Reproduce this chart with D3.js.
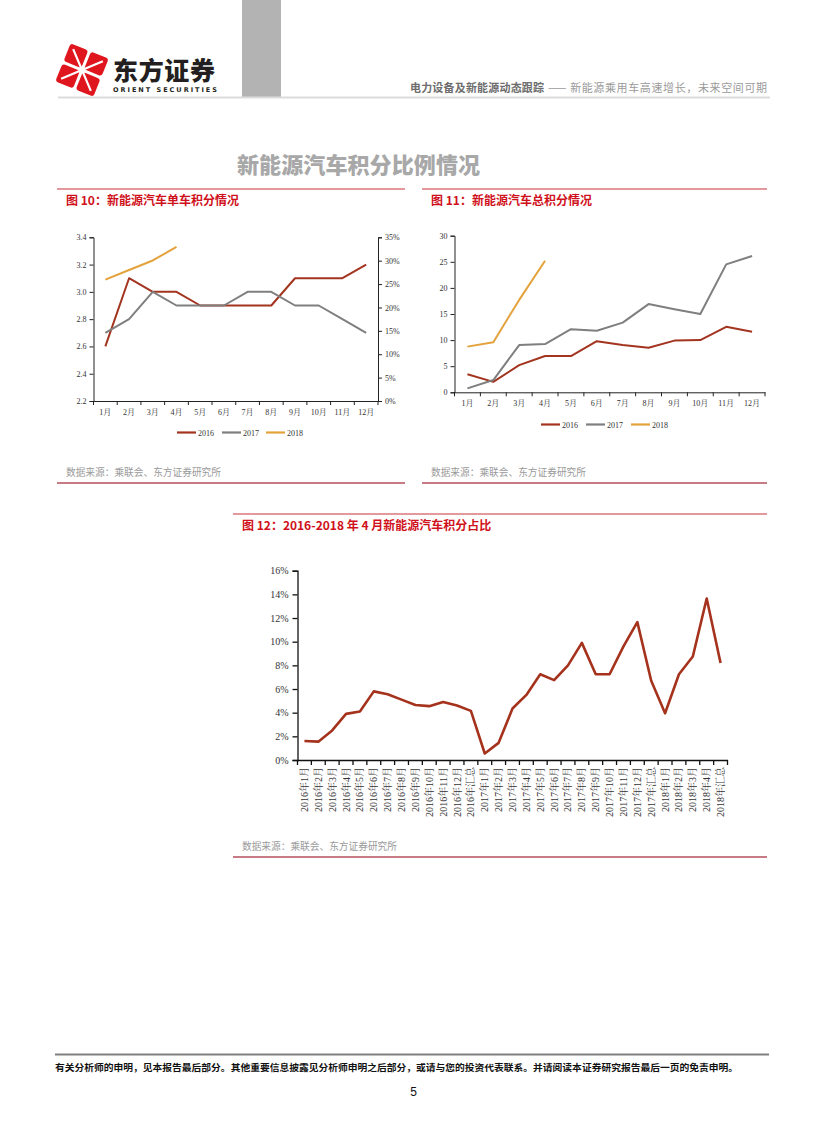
<!DOCTYPE html>
<html><head><meta charset="utf-8">
<script src="https://cdn.jsdelivr.net/npm/d3@7"></script>
<style>
html,body{margin:0;padding:0;background:#fff;}
svg{display:block;}
</style></head>
<body>
<script>
// ---------- data ----------
const months = ["1月","2月","3月","4月","5月","6月","7月","8月","9月","10月","11月","12月"];
const seriesNames = ["2016","2017","2018"];
const seriesColors = ["#a3341f","#7f7f7f","#e3a23b"];

// Fig 10: single-vehicle credit
const single2016 = [2.6,3.1,3.0,3.0,2.9,2.9,2.9,2.9,3.1,3.1,3.1,3.2];
const single2017 = [2.7,2.8,3.0,2.9,2.9,2.9,3.0,3.0,2.9,2.9,2.8,2.7];
const single2018 = [3.09,3.16,3.23,3.33];
const leftTicks10 = [2.2,2.4,2.6,2.8,3.0,3.2,3.4];
const rightTicks10 = [0,0.05,0.10,0.15,0.20,0.25,0.30,0.35];

// Fig 11: total credit
const total2016 = [3.45,2.0,5.2,6.95,6.95,9.8,9.05,8.55,9.9,10.0,12.55,11.6];
const total2017 = [0.75,2.35,9.05,9.25,12.1,11.8,13.35,16.9,15.9,15.0,24.5,26.1];
const total2018 = [8.75,9.6,17.7,25.2];
const ticks11 = [0,5,10,15,20,25,30];

// Fig 12: share
const shareLabels = ["2016年1月","2016年2月","2016年3月","2016年4月","2016年5月","2016年6月","2016年7月","2016年8月","2016年9月","2016年10月","2016年11月","2016年12月","2016年汇总",
"2017年1月","2017年2月","2017年3月","2017年4月","2017年5月","2017年6月","2017年7月","2017年8月","2017年9月","2017年10月","2017年11月","2017年12月","2017年汇总",
"2018年1月","2018年2月","2018年3月","2018年4月","2018年汇总"];
const shareValues = [1.6,1.55,2.5,3.9,4.1,5.8,5.55,5.1,4.65,4.55,4.9,4.6,4.15,
0.55,1.45,4.35,5.5,7.25,6.75,8.0,9.9,7.25,7.25,9.6,11.65,6.7,
3.95,7.25,8.75,13.65,8.2];
const ticks12 = [0,2,4,6,8,10,12,14,16];

// ---------- page ----------
const W = 827, H = 1122;
const CJK = "'Noto Sans CJK SC','Noto Sans',sans-serif";
const SERIF = "'Liberation Serif','Noto Serif CJK SC','Noto Sans CJK SC',serif";
const svg = d3.select("body").append("svg").attr("width",W).attr("height",H);

// header: logo
const logo = svg.append("g").attr("transform","translate(82,70) rotate(22)");
[[-11,-11],[11,-11],[-11,11],[11,11]].forEach(([dx,dy])=>{
  logo.append("rect").attr("x",dx-9.5).attr("y",dy-9.5).attr("width",19).attr("height",19)
    .attr("rx",3).attr("fill","#e0161e");
});
logo.append("path").attr("d","M-16,-16L16,16M16,-16L-16,16").attr("stroke","#fff").attr("stroke-width",2.2);
svg.append("text").attr("x",113).attr("y",80).attr("font-family",CJK).attr("font-weight",900)
  .attr("font-size",25).attr("fill","#231f20").attr("textLength",102).text("东方证券");
svg.append("text").attr("x",113).attr("y",91.5).attr("font-family","'DejaVu Sans',sans-serif").attr("font-weight",700)
  .attr("font-size",6.5).attr("fill","#231f20").attr("textLength",104).text("ORIENT  SECURITIES");
svg.append("rect").attr("x",242).attr("y",0).attr("width",39).attr("height",97).attr("fill","#b3b3b3");
svg.append("line").attr("x1",58).attr("x2",770).attr("y1",97.5).attr("y2",97.5).attr("stroke","#dcdcdc").attr("stroke-width",2);
svg.append("text").attr("x",410).attr("y",92).attr("font-family",CJK).attr("font-size",11)
  .attr("font-weight",700).attr("fill","#6d6d6d").attr("textLength",134).text("电力设备及新能源动态跟踪");
svg.append("text").attr("x",548).attr("y",92).attr("font-family",CJK).attr("font-size",11)
  .attr("fill","#9a9a9a").attr("textLength",219).text("—— 新能源乘用车高速增长，未来空间可期");

// big title
svg.append("text").attr("x",237).attr("y",173).attr("font-family",CJK).attr("font-weight",900)
  .attr("font-size",22).attr("fill","#a8a8a8").attr("textLength",243).text("新能源汽车积分比例情况");

// section frames
function frame(x1,x2,yTop,yBot,title,srcY){
  svg.append("line").attr("x1",x1).attr("x2",x2).attr("y1",yTop).attr("y2",yTop).attr("stroke","#c8343a").attr("stroke-width",1);
  svg.append("text").attr("x",x1+9).attr("y",yTop+16).attr("font-family",CJK).attr("font-weight",700)
    .attr("font-size",12).attr("fill","#d0101a").text(title);
  svg.append("text").attr("x",x1+9).attr("y",srcY).attr("font-family",CJK)
    .attr("font-size",9.7).attr("fill","#9a9a9a").text("数据来源：乘联会、东方证券研究所");
  svg.append("line").attr("x1",x1).attr("x2",x2).attr("y1",yBot).attr("y2",yBot).attr("stroke","#b4505c").attr("stroke-width",1.3);
}
frame(57,405,189,483,"图 10：新能源汽车单车积分情况",476);
frame(422,767,189,483,"图 11：新能源汽车总积分情况",476);
frame(233,767,514,857,"图 12：2016-2018 年 4 月新能源汽车积分占比",850);

// generic monthly chart
function monthChart(opt){
  const g = svg.append("g");
  const x = d3.scaleBand().domain(months).range([opt.x0,opt.x1]);
  const y = d3.scaleLinear().domain(opt.yDomain).range([opt.yBottom,opt.yTop]);
  const ya = g.append("g").attr("transform",`translate(${opt.x0},0)`)
    .call(d3.axisLeft(y).tickValues(opt.yTicks).tickSize(4).tickFormat(opt.yFormat));
  ya.select(".domain").attr("stroke","#222");
  ya.selectAll(".tick line").attr("stroke","#222");
  ya.selectAll("text").attr("font-family",SERIF).attr("font-size",8).attr("fill","#333");
  if(opt.rightScale){
    const r = d3.scaleLinear().domain(opt.rightDomain).range([opt.yBottom,opt.yTop]);
    const ra = g.append("g").attr("transform",`translate(${opt.x1},0)`)
      .call(d3.axisRight(r).tickValues(opt.rightTicks).tickSize(4).tickFormat(d3.format(".0%")));
    ra.select(".domain").attr("stroke","#222");
    ra.selectAll(".tick line").attr("stroke","#222");
    ra.selectAll("text").attr("font-family",SERIF).attr("font-size",8).attr("fill","#333");
  }
  const xa = g.append("g").attr("transform",`translate(0,${opt.yBottom})`)
    .call(d3.axisBottom(x).tickSize(0).tickPadding(8));
  xa.select(".domain").attr("stroke","#222");
  xa.selectAll("text").attr("font-family",SERIF).attr("font-size",8).attr("fill","#333");
  const bounds = d3.range(months.length+1).map(i=>opt.x0 + i*x.step());
  g.selectAll(".bt").data(bounds).enter().append("line")
    .attr("x1",d=>d).attr("x2",d=>d).attr("y1",opt.yBottom).attr("y2",opt.yBottom+4).attr("stroke","#222");
  const line = d3.line().x((d,i)=>x(months[i])+x.bandwidth()/2).y(d=>y(d));
  opt.series.forEach((s,k)=>{
    g.append("path").datum(s).attr("d",line).attr("fill","none")
      .attr("stroke",seriesColors[k]).attr("stroke-width",2).attr("stroke-linejoin","round");
  });
  opt.legendX.forEach((lx,k)=>{
    g.append("line").attr("x1",lx).attr("x2",lx+19).attr("y1",opt.legendY).attr("y2",opt.legendY)
      .attr("stroke",seriesColors[k]).attr("stroke-width",2.2);
    g.append("text").attr("x",lx+21).attr("y",opt.legendY+3).attr("font-family",SERIF).attr("font-size",8)
      .attr("fill","#333").text(seriesNames[k]);
  });
}

monthChart({x0:93.5,x1:378,yTop:237.3,yBottom:401,yDomain:[2.2,3.4],yTicks:leftTicks10,
  yFormat:d3.format(".1f"),rightScale:true,rightDomain:[0,0.35],rightTicks:rightTicks10,
  series:[single2016,single2017,single2018],legendX:[177,222,266],legendY:432.5});
monthChart({x0:454.5,x1:765,yTop:235.7,yBottom:392.3,yDomain:[0,30],yTicks:ticks11,
  yFormat:d3.format("d"),rightScale:false,
  series:[total2016,total2017,total2018],legendX:[541,586,631],legendY:424.5});

// Fig 12
(function(){
  const g = svg.append("g");
  const x0=297.5,x1=727.5,yT=570.7,yB=760;
  const x = d3.scaleBand().domain(shareLabels).range([x0,x1]);
  const y = d3.scaleLinear().domain([0,16]).range([yB,yT]);
  const ya = g.append("g").attr("transform",`translate(${x0},0)`)
    .call(d3.axisLeft(y).tickValues(ticks12).tickSize(5).tickPadding(4).tickFormat(d=>d+"%"));
  ya.select(".domain").attr("stroke","#111").attr("stroke-width",1.3);
  ya.selectAll(".tick line").attr("stroke","#111").attr("stroke-width",1.3);
  ya.selectAll("text").attr("font-family",SERIF).attr("font-size",10).attr("fill","#333");
  const xa = g.append("g").attr("transform",`translate(0,${yB})`)
    .call(d3.axisBottom(x).tickSize(0));
  xa.select(".domain").attr("stroke","#111").attr("stroke-width",1.5);
  xa.selectAll("text").attr("font-family",SERIF).attr("font-size",10).attr("fill","#333")
    .attr("transform","rotate(-90)").attr("text-anchor","end").attr("x",-7).attr("y",0).attr("dy","0.35em");
  const bounds = d3.range(shareLabels.length+1).map(i=>x0 + i*x.step());
  g.selectAll(".bt").data(bounds).enter().append("line")
    .attr("x1",d=>d).attr("x2",d=>d).attr("y1",yB).attr("y2",yB+5).attr("stroke","#111").attr("stroke-width",1.3);
  const line = d3.line().x((d,i)=>x(shareLabels[i])+x.bandwidth()/2).y(d=>y(d));
  g.append("path").datum(shareValues).attr("d",line).attr("fill","none")
    .attr("stroke","#a5321c").attr("stroke-width",2.6).attr("stroke-linejoin","round");
})();

// footer
svg.append("line").attr("x1",55).attr("x2",769).attr("y1",1054.5).attr("y2",1054.5).attr("stroke","#808080").attr("stroke-width",2);
svg.append("text").attr("x",55).attr("y",1071).attr("font-family",CJK).attr("font-weight",700)
  .attr("font-size",9).attr("fill","#111").attr("textLength",683).attr("lengthAdjust","spacingAndGlyphs")
  .text("有关分析师的申明，见本报告最后部分。其他重要信息披露见分析师申明之后部分，或请与您的投资代表联系。并请阅读本证券研究报告最后一页的免责申明。");
svg.append("text").attr("x",413.5).attr("y",1096).attr("text-anchor","middle").attr("font-family","'Liberation Sans',Arial,sans-serif")
  .attr("font-size",12).attr("fill","#111").text("5");
</script>
</body></html>
